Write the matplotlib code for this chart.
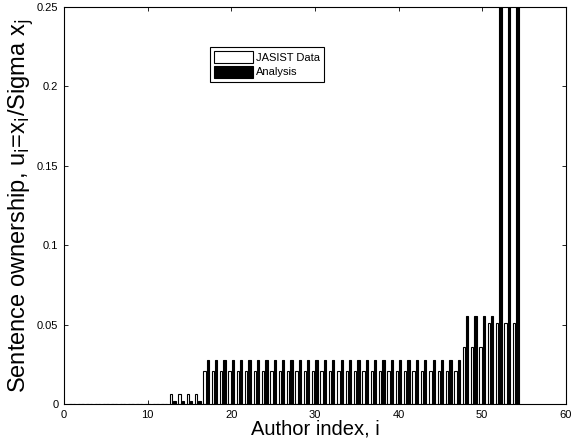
import numpy as np
import matplotlib
matplotlib.use("Agg")
from matplotlib import pyplot as plt

plt.rcParams['font.family'] = ['Liberation Sans', 'DejaVu Sans']

# indice do autor e fracao de sentencas
autores = np.arange(1, 55)
jasist = [0, 0, 0, 0, 0, 0, 0, 0, 0, 0, 0, 0,
          0.006, 0.006, 0.006, 0.006,
          0.0208, 0.0208, 0.0208, 0.0208, 0.0208, 0.0208, 0.0208, 0.0208,
          0.0208, 0.0208, 0.0208, 0.0208, 0.0208, 0.0208, 0.0208, 0.0208,
          0.0208, 0.0208, 0.0208, 0.0208, 0.0208, 0.0208, 0.0208, 0.0208,
          0.0208, 0.0208, 0.0208, 0.0208, 0.0208, 0.0208, 0.0208,
          0.0357, 0.0357, 0.0357,
          0.051, 0.051, 0.051, 0.051]
analise = [0, 0, 0, 0, 0, 0, 0, 0, 0, 0, 0, 0,
           0.002, 0.002, 0.002, 0.002,
           0.0278, 0.0278, 0.0278, 0.0278, 0.0278, 0.0278, 0.0278, 0.0278,
           0.0278, 0.0278, 0.0278, 0.0278, 0.0278, 0.0278, 0.0278, 0.0278,
           0.0278, 0.0278, 0.0278, 0.0278, 0.0278, 0.0278, 0.0278, 0.0278,
           0.0278, 0.0278, 0.0278, 0.0278, 0.0278, 0.0278, 0.0278,
           0.0556, 0.0556, 0.0556, 0.0556,
           0.3, 0.3, 0.3]

xticks = [0, 10, 20, 30, 40, 50, 60]
yticks = [0, 0.05, 0.1, 0.15, 0.2, 0.25]
ylabels = ['0', '0.05', '0.1', '0.15', '0.2', '0.25']

fig = plt.figure(figsize=(5.71, 4.42), dpi=100)
ax = fig.add_axes([0.112, 0.086, 0.879, 0.898])

larg = 0.28
ax.bar(autores - 0.2, jasist, larg, color='white', edgecolor='black',
       linewidth=0.8, label='JASIST Data')
ax.bar(autores + 0.2, analise, larg, color='black', edgecolor='black',
       linewidth=0.8, label='Analysis')

ax.set_xlim(0, 60)
ax.set_ylim(0, 0.25)
ax.set_xticks(xticks)
ax.set_yticks(yticks)
ax.set_yticklabels(ylabels)
ax.tick_params(direction='in', length=3, width=0.6, labelsize=8,
               top=True, right=True, pad=4)
for s in ax.spines.values():
    s.set_linewidth(0.8)

ax.set_xlabel('Author index, i', fontsize=14.5, labelpad=0)
ax.set_ylabel(r'Sentence ownership, u$_\mathrm{i}$=x$_\mathrm{i}$/Sigma x$_\mathrm{j}$',
              fontsize=17, labelpad=1)

leg = ax.legend(loc='upper left', bbox_to_anchor=(0.291, 0.9), fontsize=8,
                handlelength=3.5, handleheight=1.3, handletextpad=0.2,
                labelspacing=0.2, borderpad=0.4, fancybox=False,
                framealpha=1, edgecolor='black', borderaxespad=0)
leg.get_frame().set_linewidth(0.8)

plt.savefig('out.png', dpi=100)
